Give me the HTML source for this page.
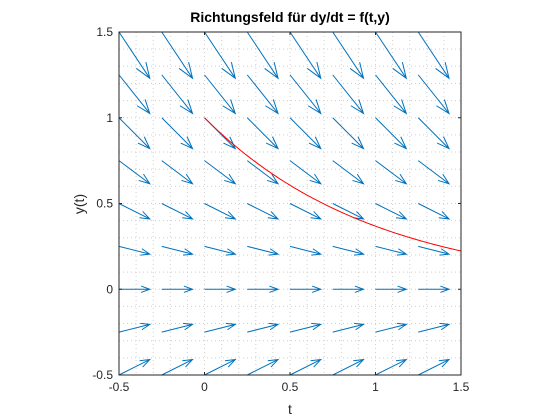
<!DOCTYPE html>
<html><head><meta charset="utf-8"><style>
body{margin:0;background:#fff;}
svg{display:block;font-family:"Liberation Sans",sans-serif;}
</style></head><body>
<svg id="chart" width="560" height="420" viewBox="0 0 560 420">
<rect width="560" height="420" fill="#fff"/>
<g id="grid"></g>
<g id="arrows"></g>
<path id="sol" fill="none" stroke="#ff0000" stroke-width="1"/>
<rect x="119" y="32" width="342" height="343" fill="none" stroke="#262626" stroke-width="1"/>
<g id="ticks"></g>
<text x="290" y="22" text-anchor="middle" font-size="14" font-weight="bold" fill="#000">Richtungsfeld für dy/dt = f(t,y)</text>
<text x="290" y="414" text-anchor="middle" font-size="14" fill="#262626">t</text>
<text transform="translate(84,204) rotate(-90)" text-anchor="middle" font-size="14" fill="#262626">y(t)</text>
</svg>
<script>
const tGrid=[-0.5,-0.25,0,0.25,0.5,0.75,1,1.25];
const yGrid=[-0.5,-0.25,0,0.25,0.5,0.75,1,1.25,1.5];
const xTicks=[-0.5,0,0.5,1,1.5];
const yTicks=[-0.5,0,0.5,1,1.5];
const xTickLabels=["-0.5","0","0.5","1","1.5"];
const yTickLabels=["-0.5","0","0.5","1","1.5"];
const y0=1;
const scale=0.18;
const NS="http://www.w3.org/2000/svg";
const X=t=>119+(t+0.5)/2*342;
const Y=v=>375-(v+0.5)/2*343;
function mk(tag,attrs,parent){const e=document.createElementNS(NS,tag);for(const k in attrs)e.setAttribute(k,attrs[k]);parent.appendChild(e);return e;}
const grid=document.getElementById('grid');
for(let i=1;i<20;i++){const v=-0.5+i*0.1;
 const l1=mk('line',{x1:X(v),x2:X(v),y1:32,y2:375,stroke:'#cfcfcf','stroke-width':1,'stroke-dasharray':'1,3'},grid);
 
 
 const l2=mk('line',{x1:119,x2:461,y1:Y(v),y2:Y(v),stroke:'#cfcfcf','stroke-width':1,'stroke-dasharray':'1,3'},grid);
 
 
}
const ar=document.getElementById('arrows');
tGrid.forEach(t=>yGrid.forEach(v=>{
 const u=1,w=-v;
 const x1=X(t),y1=Y(v),x2=X(t+scale*u),y2=Y(v+scale*w);
 const dx=x2-x1,dy=y2-y1,L=Math.hypot(dx,dy),ang=Math.atan2(dy,dx);
 const h=L*0.3,a=0.35;
 const hx1=x2-h*Math.cos(ang-a),hy1=y2-h*Math.sin(ang-a);
 const hx2=x2-h*Math.cos(ang+a),hy2=y2-h*Math.sin(ang+a);
 const p=mk('path',{d:`M${x1},${y1}L${x2},${y2}M${hx1},${hy1}L${x2},${y2}L${hx2},${hy2}`,stroke:'#0072bd','stroke-width':1,fill:'none'},ar);
 
 
}));
let d='';for(let i=0;i<=150;i++){const t=i/100;d+=(i?'L':'M')+X(t)+','+Y(y0*Math.exp(-t));}
document.getElementById('sol').setAttribute('d',d);
const tk=document.getElementById('ticks');
xTicks.forEach((v,i)=>{
 mk('line',{x1:X(v),x2:X(v),y1:375,y2:372,stroke:'#262626'},tk);
 mk('line',{x1:X(v),x2:X(v),y1:32,y2:35,stroke:'#262626'},tk);
 const tx=mk('text',{x:X(v),y:391,'text-anchor':'middle','font-size':12,fill:'#262626'},tk);
 tx.textContent=xTickLabels[i];
 
 
});
yTicks.forEach((v,i)=>{
 mk('line',{x1:119,x2:122,y1:Y(v),y2:Y(v),stroke:'#262626'},tk);
 mk('line',{x1:461,x2:458,y1:Y(v),y2:Y(v),stroke:'#262626'},tk);
 const tx=mk('text',{x:113,y:Y(v)+4,'text-anchor':'end','font-size':12,fill:'#262626'},tk);
 tx.textContent=yTickLabels[i];
 
 
});
</script>
</body></html>
